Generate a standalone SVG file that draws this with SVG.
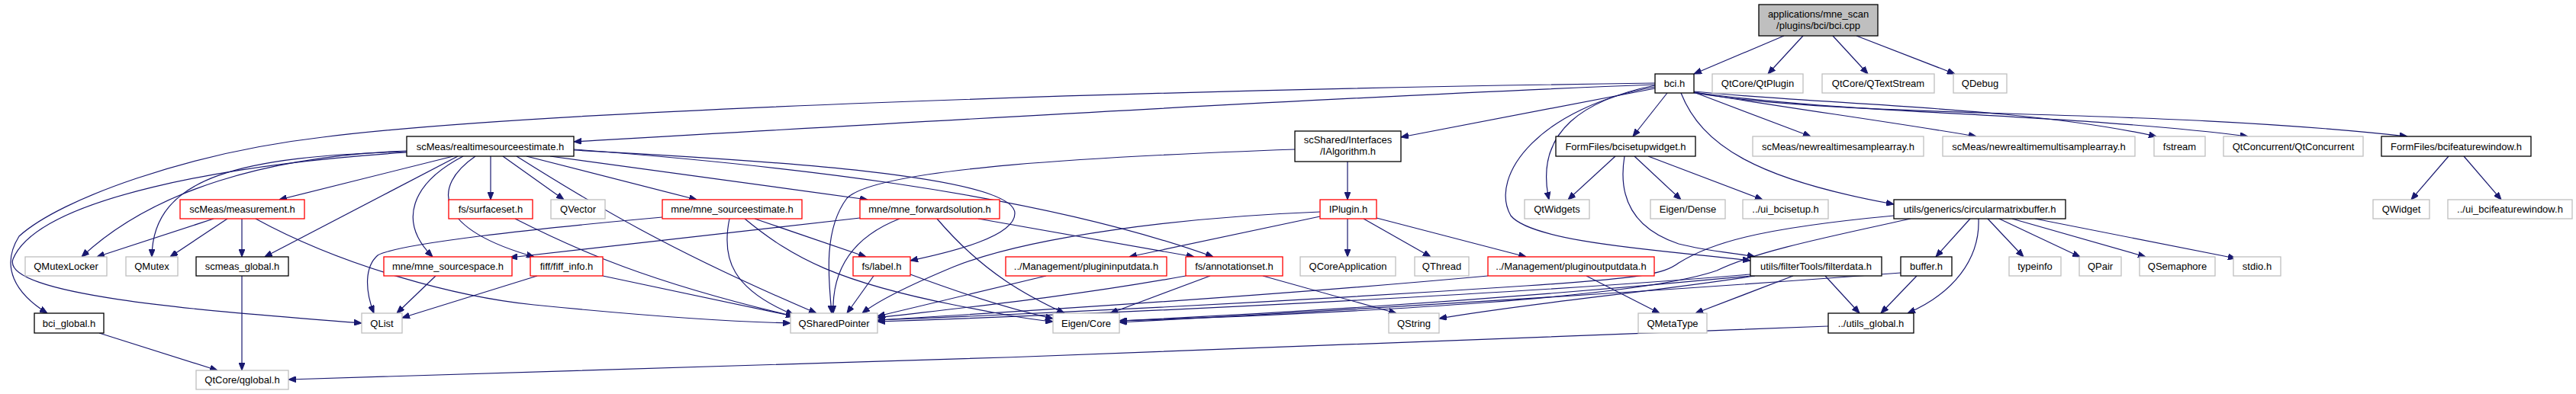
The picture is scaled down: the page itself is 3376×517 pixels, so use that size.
<svg xmlns="http://www.w3.org/2000/svg" width="3376" height="517" viewBox="0 0 3376 517">
<defs>
<marker id="a" markerWidth="10" markerHeight="8" refX="10" refY="4" orient="auto" markerUnits="userSpaceOnUse"><path d="M0,0 L10,4 L0,8 z" fill="#191970" stroke="#191970" stroke-width="1"/></marker>
<style>
rect{fill:#fff;stroke-width:1.3}
.g rect{stroke:#bfbfbf}
.b rect{stroke:#000}
.r rect{stroke:#ff0000}
.root rect{fill:#bfbfbf;stroke:#000}
text{font-family:"Liberation Sans",Arial,Helvetica,sans-serif;font-size:13px;fill:#000;text-anchor:middle}
#edges path{fill:none;stroke:#191970;stroke-width:1.2;marker-end:url(#a)}
</style>
</defs>
<rect x="0" y="0" width="3376" height="517" style="fill:#fff;stroke:none"/>
<g id="edges">
<path d="M2338,47 L2220,97"/>
<path d="M2363,47 L2317,97"/>
<path d="M2402,47 L2448,97"/>
<path d="M2433,47 L2562,97"/>
<path d="M2185,122 L2140,179"/>
<path d="M2220,121 L2373,179"/>
<path d="M2220,121 C2330,140 2480,160 2590,179"/>
<path d="M2220,120 C2400,138 2650,140 2826,179"/>
<path d="M2220,121 C2420,150 2700,148 2946,179"/>
<path d="M2220,122 C2450,158 2800,140 3155,179"/>
<path d="M2203,122 C2230,190 2300,235 2482,268"/>
<path d="M2169,112 C2080,130 2010,170 2030,262"/>
<path d="M2169,114 C2020,140 1950,230 1980,283 C2010,320 2200,330 2294,342"/>
<path d="M2169,116 L1836,180"/>
<path d="M2169,111 C1800,125 1200,160 752,186"/>
<path d="M2169,109 C1500,118 700,145 423,180 C250,200 80,260 25,310 C0,350 20,385 62,411"/>
<path d="M594,205 L366,262"/>
<path d="M643,205 L643,262"/>
<path d="M659,205 L739,262"/>
<path d="M690,205 L913,262"/>
<path d="M721,205 L1137,262"/>
<path d="M607,205 C540,240 520,290 567,337"/>
<path d="M623,205 C565,245 570,300 700,337"/>
<path d="M600,205 L347,337"/>
<path d="M533,198 C350,205 200,250 107,337"/>
<path d="M533,199 C320,205 200,230 199,337"/>
<path d="M533,200 C300,215 50,260 17,340 C0,390 300,410 474,424"/>
<path d="M677,205 C780,270 880,330 1070,411"/>
<path d="M752,197 C1000,210 1330,230 1330,280 C1330,310 1250,330 1193,342"/>
<path d="M752,196 C1000,215 1350,250 1590,337"/>
<path d="M675,287 C760,330 850,370 1040,415"/>
<path d="M280,287 L127,337"/>
<path d="M298,287 L223,337"/>
<path d="M317,287 L317,337"/>
<path d="M335,287 C450,350 600,390 700,400 C850,415 950,422 1036,424"/>
<path d="M317,362 L317,486"/>
<path d="M130,437 L285,486"/>
<path d="M2396,428 C1800,455 1000,480 378,498"/>
<path d="M571,362 L520,411"/>
<path d="M704,362 L527,417"/>
<path d="M790,362 L1040,415"/>
<path d="M868,285 C700,300 520,320 495,335 C478,350 478,380 490,411"/>
<path d="M956,287 C945,340 960,380 1040,413"/>
<path d="M976,287 C1040,340 1100,370 1250,400 C1300,410 1340,418 1380,422"/>
<path d="M989,287 L1135,337"/>
<path d="M1127,286 L668,338"/>
<path d="M1179,287 C1120,310 1090,350 1092,411"/>
<path d="M1228,287 C1290,360 1350,390 1395,411"/>
<path d="M1282,287 L1565,337"/>
<path d="M1145,362 L1110,411"/>
<path d="M1193,360 C1260,385 1320,405 1380,418"/>
<path d="M1766,212 L1766,262"/>
<path d="M1697,196 C1450,205 1150,220 1110,260 C1080,300 1085,360 1090,411"/>
<path d="M1766,287 L1766,337"/>
<path d="M1787,287 L1875,337"/>
<path d="M1804,286 L2000,337"/>
<path d="M1730,284 L1480,337"/>
<path d="M1730,278 C1550,285 1350,310 1250,350 C1190,375 1150,395 1130,411"/>
<path d="M1554,362 C1400,390 1250,405 1150,417"/>
<path d="M1586,362 L1455,411"/>
<path d="M1655,362 L1830,411"/>
<path d="M1371,362 L1150,415"/>
<path d="M1950,362 C1700,385 1400,405 1150,420"/>
<path d="M2079,362 L2175,411"/>
<path d="M2350,362 L2222,411"/>
<path d="M2392,362 L2437,411"/>
<path d="M2294,360 C2000,385 1500,410 1150,422"/>
<path d="M2294,362 C2000,390 1700,410 1467,421"/>
<path d="M2300,362 C2150,385 2000,398 1886,418"/>
<path d="M2512,362 L2465,411"/>
<path d="M2491,358 C2200,380 1800,405 1467,423"/>
<path d="M2582,287 L2537,337"/>
<path d="M2593,287 C2595,340 2560,385 2500,411"/>
<path d="M2605,287 L2652,337"/>
<path d="M2620,287 L2726,337"/>
<path d="M2637,287 L2812,337"/>
<path d="M2667,287 L2930,339"/>
<path d="M2482,283 C2300,300 2240,320 2200,345 C2180,360 2150,365 2000,375 C1700,395 1400,410 1150,420"/>
<path d="M2504,287 C2400,310 2300,330 2250,355 C2150,390 1800,410 1467,421"/>
<path d="M2117,205 L2055,262"/>
<path d="M2142,205 L2203,262"/>
<path d="M2160,205 L2310,262"/>
<path d="M2129,205 C2120,260 2140,300 2200,320 C2240,330 2275,332 2300,337"/>
<path d="M3209,205 L3160,262"/>
<path d="M3229,205 L3278,262"/>
</g>
<g id="n_root" class="root"><rect x="2305" y="6" width="156" height="41"/><text x="2383" y="23">applications/mne_scan</text><text x="2383" y="38">/plugins/bci/bci.cpp</text></g>
<g id="n_bci_h" class="b"><rect x="2169" y="97" width="51" height="25"/><text x="2194.5" y="114">bci.h</text></g>
<g id="n_qtplugin" class="g"><rect x="2244" y="97" width="119" height="25"/><text x="2303.5" y="114">QtCore/QtPlugin</text></g>
<g id="n_qtextstream" class="g"><rect x="2388" y="97" width="147" height="25"/><text x="2461.5" y="114">QtCore/QTextStream</text></g>
<g id="n_qdebug" class="g"><rect x="2560" y="97" width="70" height="25"/><text x="2595" y="114">QDebug</text></g>
<g id="n_realtimesourceestimate" class="b"><rect x="533" y="179" width="219" height="26"/><text x="642.5" y="196.5">scMeas/realtimesourceestimate.h</text></g>
<g id="n_ialgorithm" class="b"><rect x="1697" y="172" width="139" height="40"/><text x="1766.5" y="188">scShared/Interfaces</text><text x="1766.5" y="203">/IAlgorithm.h</text></g>
<g id="n_bcisetupwidget" class="b"><rect x="2039" y="179" width="183" height="26"/><text x="2130.5" y="196.5">FormFiles/bcisetupwidget.h</text></g>
<g id="n_newrealtimesamplearray" class="g"><rect x="2297" y="179" width="224" height="26"/><text x="2409" y="196.5">scMeas/newrealtimesamplearray.h</text></g>
<g id="n_newrealtimemultisamplearray" class="g"><rect x="2546" y="179" width="252" height="26"/><text x="2672" y="196.5">scMeas/newrealtimemultisamplearray.h</text></g>
<g id="n_fstream" class="g"><rect x="2823" y="179" width="67" height="26"/><text x="2856.5" y="196.5">fstream</text></g>
<g id="n_qtconcurrent" class="g"><rect x="2914" y="179" width="183" height="26"/><text x="3005.5" y="196.5">QtConcurrent/QtConcurrent</text></g>
<g id="n_bcifeaturewindow" class="b"><rect x="3121" y="179" width="196" height="26"/><text x="3219" y="196.5">FormFiles/bcifeaturewindow.h</text></g>
<g id="n_measurement" class="r"><rect x="236" y="262" width="163" height="25"/><text x="317.5" y="279">scMeas/measurement.h</text></g>
<g id="n_surfaceset" class="r"><rect x="588" y="262" width="110" height="25"/><text x="643" y="279">fs/surfaceset.h</text></g>
<g id="n_qvector" class="g"><rect x="722" y="262" width="71" height="25"/><text x="757.5" y="279">QVector</text></g>
<g id="n_mne_sourceestimate" class="r"><rect x="868" y="262" width="183" height="25"/><text x="959.5" y="279">mne/mne_sourceestimate.h</text></g>
<g id="n_mne_forwardsolution" class="r"><rect x="1127" y="262" width="183" height="25"/><text x="1218.5" y="279">mne/mne_forwardsolution.h</text></g>
<g id="n_iplugin" class="r"><rect x="1730" y="262" width="74" height="25"/><text x="1767" y="279">IPlugin.h</text></g>
<g id="n_qtwidgets" class="g"><rect x="1998" y="262" width="85" height="25"/><text x="2040.5" y="279">QtWidgets</text></g>
<g id="n_eigen_dense" class="g"><rect x="2163" y="262" width="98" height="25"/><text x="2212" y="279">Eigen/Dense</text></g>
<g id="n_ui_bcisetup" class="g"><rect x="2284" y="262" width="112" height="25"/><text x="2340" y="279">../ui_bcisetup.h</text></g>
<g id="n_circularmatrixbuffer" class="b"><rect x="2482" y="262" width="225" height="25"/><text x="2594.5" y="279">utils/generics/circularmatrixbuffer.h</text></g>
<g id="n_qwidget" class="g"><rect x="3110" y="262" width="74" height="25"/><text x="3147" y="279">QWidget</text></g>
<g id="n_ui_bcifeaturewindow" class="g"><rect x="3208" y="262" width="163" height="25"/><text x="3289.5" y="279">../ui_bcifeaturewindow.h</text></g>
<g id="n_qmutexlocker" class="g"><rect x="33" y="337" width="107" height="25"/><text x="86.5" y="354">QMutexLocker</text></g>
<g id="n_qmutex" class="g"><rect x="165" y="337" width="68" height="25"/><text x="199" y="354">QMutex</text></g>
<g id="n_scmeas_global" class="b"><rect x="257" y="337" width="121" height="25"/><text x="317.5" y="354">scmeas_global.h</text></g>
<g id="n_mne_sourcespace" class="r"><rect x="503" y="337" width="168" height="25"/><text x="587" y="354">mne/mne_sourcespace.h</text></g>
<g id="n_fiff_info" class="r"><rect x="695" y="337" width="95" height="25"/><text x="742.5" y="354">fiff/fiff_info.h</text></g>
<g id="n_label" class="r"><rect x="1118" y="337" width="75" height="25"/><text x="1155.5" y="354">fs/label.h</text></g>
<g id="n_plugininputdata" class="r"><rect x="1318" y="337" width="211" height="25"/><text x="1423.5" y="354">../Management/plugininputdata.h</text></g>
<g id="n_annotationset" class="r"><rect x="1554" y="337" width="127" height="25"/><text x="1617.5" y="354">fs/annotationset.h</text></g>
<g id="n_qcoreapplication" class="g"><rect x="1704" y="337" width="125" height="25"/><text x="1766.5" y="354">QCoreApplication</text></g>
<g id="n_qthread" class="g"><rect x="1854" y="337" width="71" height="25"/><text x="1889.5" y="354">QThread</text></g>
<g id="n_pluginoutputdata" class="r"><rect x="1950" y="337" width="218" height="25"/><text x="2059" y="354">../Management/pluginoutputdata.h</text></g>
<g id="n_filterdata" class="b"><rect x="2294" y="337" width="172" height="25"/><text x="2380" y="354">utils/filterTools/filterdata.h</text></g>
<g id="n_buffer" class="b"><rect x="2491" y="337" width="67" height="25"/><text x="2524.5" y="354">buffer.h</text></g>
<g id="n_typeinfo" class="g"><rect x="2633" y="337" width="68" height="25"/><text x="2667" y="354">typeinfo</text></g>
<g id="n_qpair" class="g"><rect x="2725" y="337" width="55" height="25"/><text x="2752.5" y="354">QPair</text></g>
<g id="n_qsemaphore" class="g"><rect x="2804" y="337" width="99" height="25"/><text x="2853.5" y="354">QSemaphore</text></g>
<g id="n_stdio" class="g"><rect x="2927" y="337" width="62" height="25"/><text x="2958" y="354">stdio.h</text></g>
<g id="n_bci_global" class="b"><rect x="45" y="411" width="91" height="26"/><text x="90.5" y="428.5">bci_global.h</text></g>
<g id="n_qlist" class="g"><rect x="474" y="411" width="53" height="26"/><text x="500.5" y="428.5">QList</text></g>
<g id="n_qsharedpointer" class="g"><rect x="1036" y="411" width="114" height="26"/><text x="1093" y="428.5">QSharedPointer</text></g>
<g id="n_eigen_core" class="g"><rect x="1380" y="411" width="87" height="26"/><text x="1423.5" y="428.5">Eigen/Core</text></g>
<g id="n_qstring" class="g"><rect x="1820" y="411" width="66" height="26"/><text x="1853" y="428.5">QString</text></g>
<g id="n_qmetatype" class="g"><rect x="2147" y="411" width="90" height="26"/><text x="2192" y="428.5">QMetaType</text></g>
<g id="n_utils_global" class="b"><rect x="2396" y="411" width="112" height="26"/><text x="2452" y="428.5">../utils_global.h</text></g>
<g id="n_qglobal" class="g"><rect x="257" y="486" width="121" height="25"/><text x="317.5" y="503">QtCore/qglobal.h</text></g>
</svg>
